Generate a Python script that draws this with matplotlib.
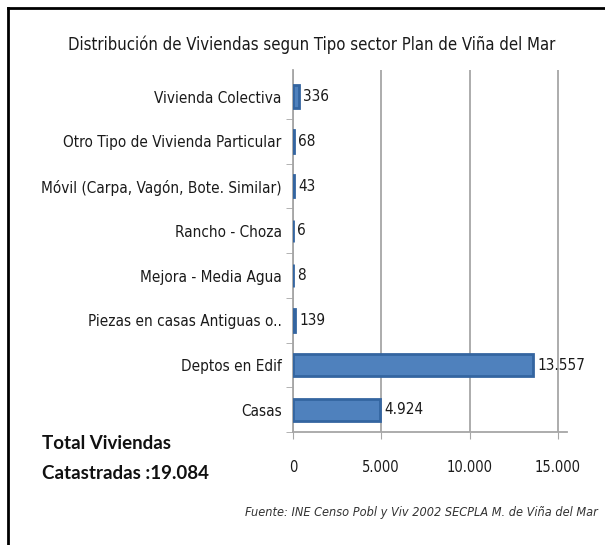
import numpy as np
import matplotlib.pyplot as plt
from matplotlib.lines import Line2D

# data (bottom to top)
categorias = ['Casas', 'Deptos en Edif', 'Piezas en casas Antiguas o..',
              'Mejora - Media Agua', 'Rancho - Choza',
              'Móvil (Carpa, Vagón, Bote. Similar)',
              'Otro Tipo de Vivienda Particular', 'Vivienda Colectiva']
valores = [4924, 13557, 139, 8, 6, 43, 68, 336]
ticks_x = [0, 5000, 10000, 15000]
ticks_x_lab = ['0', '5.000', '10.000', '15.000']

narrow = dict(family='DejaVu Sans', stretch='condensed')

fig = plt.figure(figsize=(6.05, 5.45), dpi=100)
ax = fig.add_axes([0.484, 0.207, 0.453, 0.665])

y = np.arange(len(categorias))
ax.barh(y, valores, height=0.5, color='#4f81bd', edgecolor='#3465a0', linewidth=2.0, zorder=3)

for yi, v in zip(y, valores):
    txt = f'{v:,}'.replace(',', '.')
    ax.text(v + 250, yi, txt, va='center', ha='left', fontsize=11, color='#1a1a1a', **narrow)

ax.set_xlim(0, 15500)
ax.set_ylim(-0.5, 7.6)
ax.set_yticks(y)
ax.set_yticklabels(categorias, fontsize=11, color='#1a1a1a', **narrow)
ax.set_xticks(ticks_x)
ax.set_xticklabels(ticks_x_lab, fontsize=10.5, color='#1a1a1a', **narrow)
ax.tick_params(axis='y', length=0, pad=8)
ax.tick_params(axis='x', length=5, color='#a6a6a6', pad=15)
# category separator ticks on the left axis
ax.set_yticks(np.arange(-0.5, 7.5, 1), minor=True)
ax.tick_params(axis='y', which='minor', length=5, color='#a6a6a6')

ax.grid(axis='x', color='#a6a6a6', linewidth=1.3, zorder=0)
for s in ['top', 'right']:
    ax.spines[s].set_visible(False)
for s in ['left', 'bottom']:
    ax.spines[s].set_color('#a6a6a6')
    ax.spines[s].set_linewidth(1.3)

fig.text(0.515, 0.918, 'Distribución de Viviendas segun Tipo sector Plan de Viña del Mar',
         ha='center', va='center', fontsize=12, color='#1a1a1a', **narrow)
fig.text(0.069, 0.187, 'Total Viviendas', ha='left', va='center',
         fontsize=13.5, fontweight='bold', family=['Lato', 'DejaVu Sans'], color='#111111')
fig.text(0.069, 0.132, 'Catastradas :19.084', ha='left', va='center',
         fontsize=13.5, fontweight='bold', family=['Lato', 'DejaVu Sans'], color='#111111')
fig.text(0.988, 0.06, 'Fuente: INE Censo Pobl y Viv 2002 SECPLA M. de Viña del Mar',
         ha='right', va='center', fontsize=9.1, style='italic', color='#333333', **narrow)

# frame lines on left and top
fig.add_artist(Line2D([8 / 605, 8 / 605], [0, 1 - 8 / 545], transform=fig.transFigure,
                      color='black', linewidth=2))
fig.add_artist(Line2D([8 / 605, 1], [1 - 8 / 545, 1 - 8 / 545], transform=fig.transFigure,
                      color='black', linewidth=2))

fig.savefig('out.png', dpi=100)
